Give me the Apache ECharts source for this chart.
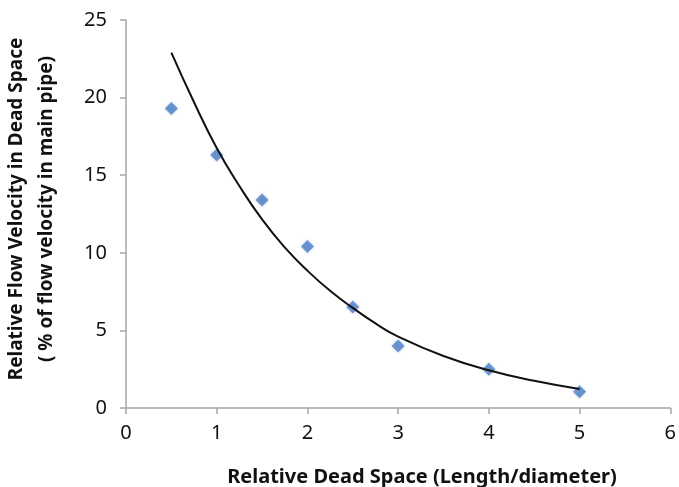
<!DOCTYPE html>
<html>
<head>
<meta charset="utf-8">
<script src="https://cdn.jsdelivr.net/npm/echarts@6/dist/echarts.min.js"></script>
<style>
  html, body { margin: 0; padding: 0; background: #fff; }
  #main { width: 679px; height: 487px; }
</style>
</head>
<body>
<div id="main"></div>
<script>
// measured points (relative dead space vs relative flow velocity)
var deadSpace = [0.5, 1, 1.5, 2, 2.5, 3, 4, 5];
var flowVelocity = [19.3, 16.3, 13.4, 10.4, 6.5, 4.0, 2.5, 1.05];

// trendline
var trendX = [0.5, 0.75, 1, 1.25, 1.5, 1.75, 2, 2.25, 2.5, 2.75, 3, 3.5, 4, 4.5, 5];
var trendY = [22.9, 19.7, 16.75, 14.3, 12.15, 10.35, 8.85, 7.55, 6.45, 5.45, 4.6, 3.35, 2.43, 1.75, 1.22];

var xTicks = [0, 6, 1];   // min, max, interval
var yTicks = [0, 25, 5];

var fontName = 'Noto Sans';

var myChart = echarts.init(document.getElementById('main'));

var points = deadSpace.map(function (x, i) { return [x, flowVelocity[i]]; });
var trend = trendX.map(function (x, i) { return [x, trendY[i]]; });

var option = {
  animation: false,
  backgroundColor: '#fff',
  title: {
    text: 'Relative Dead Space (Length/diameter)',
    left: 417,
    top: 462,
    textAlign: 'center',
    textStyle: { fontFamily: fontName, fontSize: 20, fontWeight: 'bold', color: '#111' }
  },
  graphic: [{
    type: 'text',
    x: 32,
    y: 209,
    rotation: Math.PI / 2,
    style: {
      text: 'Relative Flow Velocity in Dead Space\n( % of flow velocity in main pipe)',
      align: 'center',
      verticalAlign: 'middle',
      lineHeight: 30,
      font: 'bold 19px "Noto Sans"',
      fill: '#111'
    }
  }],
  grid: {
    left: 126,
    right: 6,
    top: 20,
    bottom: 79
  },
  xAxis: {
    type: 'value',
    min: xTicks[0],
    max: xTicks[1],
    interval: xTicks[2],
    axisLine: { lineStyle: { color: '#a6a6a6', width: 1.5 } },
    axisTick: { show: true, length: 6, lineStyle: { color: '#a6a6a6', width: 1.5 } },
    axisLabel: { margin: 15, fontFamily: fontName, fontSize: 20, color: '#111' },
    splitLine: { show: false }
  },
  yAxis: {
    type: 'value',
    min: yTicks[0],
    max: yTicks[1],
    interval: yTicks[2],
    axisLine: { show: true, lineStyle: { color: '#a6a6a6', width: 1.5 } },
    axisTick: { show: true, length: 6, lineStyle: { color: '#a6a6a6', width: 1.5 } },
    axisLabel: { margin: 19, fontFamily: fontName, fontSize: 20, color: '#111' },
    splitLine: { show: false }
  },
  series: [
    {
      name: 'trend',
      type: 'line',
      data: trend,
      smooth: 0.5,
      showSymbol: false,
      lineStyle: { color: '#111', width: 2 },
      z: 3
    },
    {
      name: 'measured',
      type: 'scatter',
      data: points,
      symbol: 'diamond',
      symbolSize: [13, 13],
      itemStyle: {
        color: '#4f81c7',
        shadowColor: 'rgba(79,129,199,0.45)',
        shadowBlur: 3
      },
      z: 2
    }
  ]
};
myChart.setOption(option);
</script>
</body>
</html>
